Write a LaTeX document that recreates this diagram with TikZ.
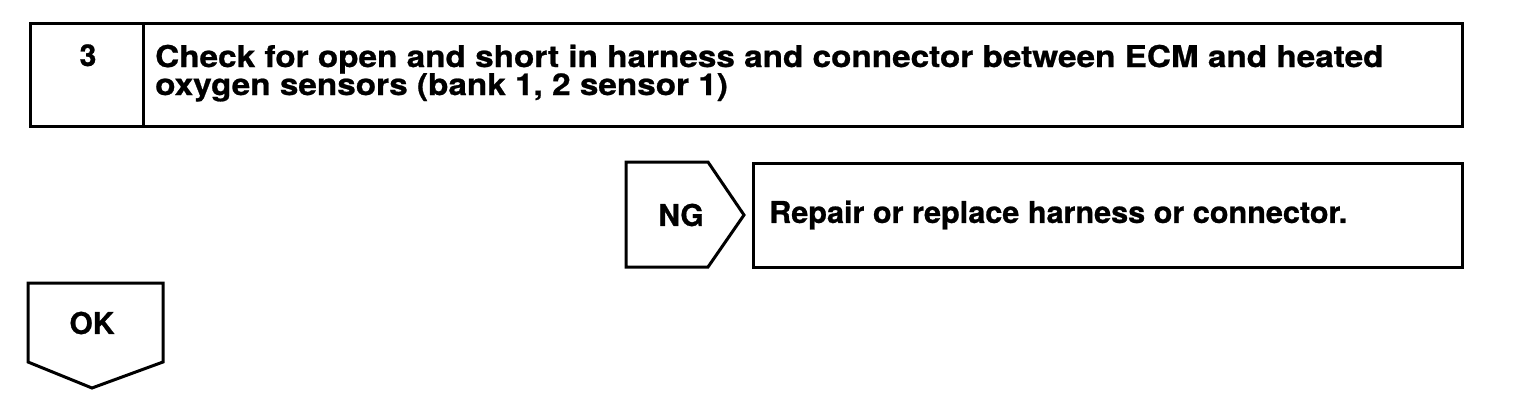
\documentclass[tikz,border=0pt]{standalone}
\usepackage{fontspec}
\setmainfont{TeX Gyre Heros}[BoldFeatures={FakeBold=0.8}]
\newfontfamily\widefont{TeX Gyre Heros}[FakeStretch=1.11,BoldFeatures={FakeBold=0.8}]
\newfontfamily\repfont{TeX Gyre Heros}[FakeStretch=1.02,BoldFeatures={FakeBold=0.8}]
\begin{document}
\begin{tikzpicture}[x=1pt,y=-1pt,
  box/.style={draw=black,line width=3pt,line join=miter},
  lbl/.style={font=\bfseries\fontsize{30}{27}\selectfont,inner sep=0pt}]
\useasboundingbox (0,0) rectangle (1520,402);
% step box
\draw[box] (30,23) rectangle (1462,126);
\draw[box] (143,23) -- (143,126);
\node[lbl,anchor=base] (num) at (88,66) {3};
\node[lbl,anchor=base west] (title1) at (155,67)
  {\widefont\bfseries Check for open and short in harness and connector between ECM and heated};
\node[lbl,anchor=base west] (title2) at (155,95)
  {\widefont\bfseries oxygen sensors (bank 1, 2 sensor 1)};
% NG
\draw[box] (626,162) -- (708,162) -- (744,215) -- (708,267) -- (626,267) -- cycle;
\node[lbl] (ng) at (681,215) {NG};
\draw[box] (753,163) rectangle (1462,267);
\node[lbl,anchor=west] (rep) at (769,215) {\repfont\bfseries Repair or replace harness or connector.};
% OK
\draw[box] (28,283) -- (163,283) -- (163,362) -- (92,388) -- (28,362) -- cycle;
\node[lbl] (ok) at (92,323) {OK};
\end{tikzpicture}
\end{document}
